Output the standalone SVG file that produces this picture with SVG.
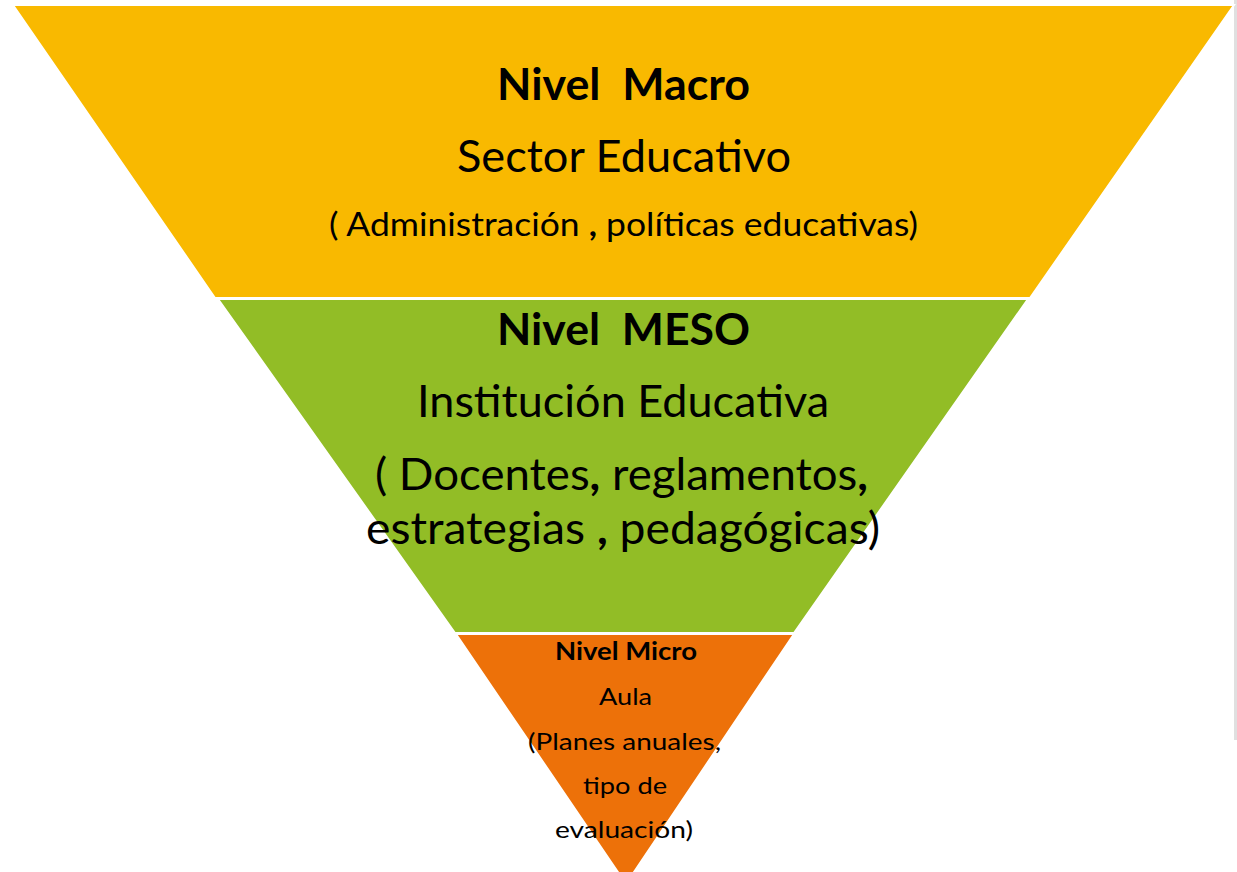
<svg xmlns="http://www.w3.org/2000/svg" width="1237" height="872" viewBox="0 0 1237 872">
<style>
.t{font-family:Lato,"Open Sans","Liberation Sans",sans-serif;fill:#000;text-anchor:middle}
.b{font-weight:bold}
.lay{stroke:#fff;stroke-width:2}
</style>
<rect width="1237" height="872" fill="#fff"/>
<rect x="1234" y="0" width="3" height="740" fill="#e0e0e0"/>
<g id="macro">
<polygon class="lay" fill="#F9B900" points="13,5 1234,5 1030,298 215,298"/>
<text class="t b" x="623.5" y="100" font-size="43" textLength="253" lengthAdjust="spacingAndGlyphs" xml:space="preserve">Nivel  Macro</text>
<text class="t" x="624" y="172" font-size="44" textLength="334" lengthAdjust="spacingAndGlyphs">Sector Educativo</text>
<text class="t" x="623.5" y="236" font-size="33" textLength="589" lengthAdjust="spacingAndGlyphs">( Administración <tspan class="b">,</tspan> políticas educativas)</text>
</g>
<g id="meso">
<polygon class="lay" fill="#92BD26" points="218,299 1028,299 794,633 455,633"/>
<text class="t b" x="623.5" y="345" font-size="43" textLength="253" lengthAdjust="spacingAndGlyphs" xml:space="preserve">Nivel  MESO</text>
<text class="t" x="623" y="417" font-size="44" textLength="412" lengthAdjust="spacingAndGlyphs">Institución Educativa</text>
<text class="t" x="621.5" y="490" font-size="44" textLength="493" lengthAdjust="spacingAndGlyphs">( Docentes<tspan class="b">,</tspan> reglamentos<tspan class="b">,</tspan></text>
<text class="t" x="623" y="544" font-size="44" textLength="514" lengthAdjust="spacingAndGlyphs">estrategias <tspan class="b">,</tspan> pedagógicas)</text>
</g>
<g id="micro">
<polygon class="lay" fill="#ED7109" points="456,634 794,634 626,884"/>
<text class="t b" x="626" y="660" font-size="24" textLength="142" lengthAdjust="spacingAndGlyphs">Nivel Micro</text>
<text class="t" x="625.5" y="705" font-size="24" textLength="53" lengthAdjust="spacingAndGlyphs">Aula</text>
<text class="t" x="624.5" y="750" font-size="24" textLength="193" lengthAdjust="spacingAndGlyphs">(Planes anuales,</text>
<text class="t" x="625" y="794" font-size="24" textLength="84" lengthAdjust="spacingAndGlyphs">tipo de</text>
<text class="t" x="624" y="838" font-size="24" textLength="138" lengthAdjust="spacingAndGlyphs">evaluación)</text>
</g>
</svg>
